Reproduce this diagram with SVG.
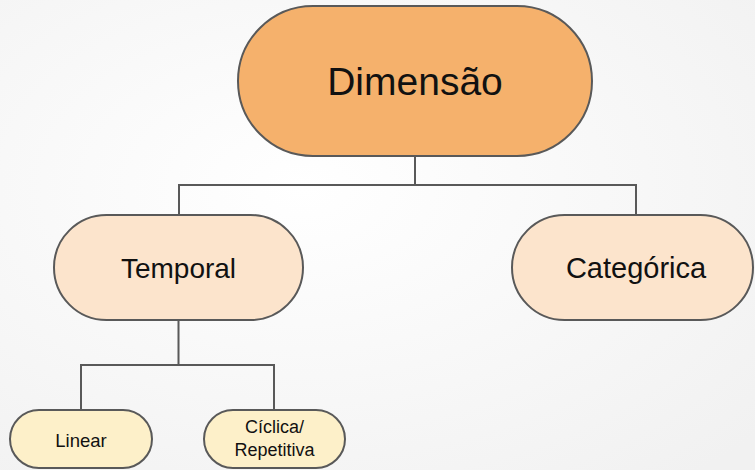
<svg xmlns="http://www.w3.org/2000/svg" width="755" height="470" viewBox="0 0 755 470">
<defs>
<radialGradient id="bg" cx="0.4" cy="0.4" r="0.8">
<stop offset="0" stop-color="#ffffff"/>
<stop offset="1" stop-color="#f1f1f1"/>
</radialGradient>
<style>
.n{stroke:#595959;stroke-width:2}
.l1{fill:#F5B16C}
.l2{fill:#FCE4CC}
.l3{fill:#FDF0C9}
text{font-family:"Liberation Sans",Arial,sans-serif;fill:#111;text-anchor:middle}
.c{fill:none;stroke:#595959;stroke-width:2}
</style>
</defs>
<rect width="755" height="470" fill="url(#bg)"/>
<g id="connectors">
<path class="c" d="M415 156V185M179 215V185H636V215"/>
<path class="c" d="M178.5 320V365M81 410V365H274V410"/>
</g>
<g id="dimensao">
<rect class="n l1" x="238" y="6" width="354" height="150" rx="75"/>
<text x="415" y="95" font-size="39">Dimensão</text>
</g>
<g id="temporal">
<rect class="n l2" x="54" y="215" width="249" height="105" rx="52.5"/>
<text x="178.5" y="278" font-size="28">Temporal</text>
</g>
<g id="categorica">
<rect class="n l2" x="512" y="215" width="241" height="105" rx="52.5"/>
<text x="636" y="278" font-size="29">Categórica</text>
</g>
<g id="linear">
<rect class="n l3" x="10" y="410" width="142" height="58" rx="29"/>
<text x="81" y="447" font-size="18.5">Linear</text>
</g>
<g id="ciclica">
<rect class="n l3" x="204" y="410" width="141" height="58" rx="29"/>
<text x="274.5" y="433" font-size="18">Cíclica/</text>
<text x="274.5" y="456" font-size="18">Repetitiva</text>
</g>
</svg>
